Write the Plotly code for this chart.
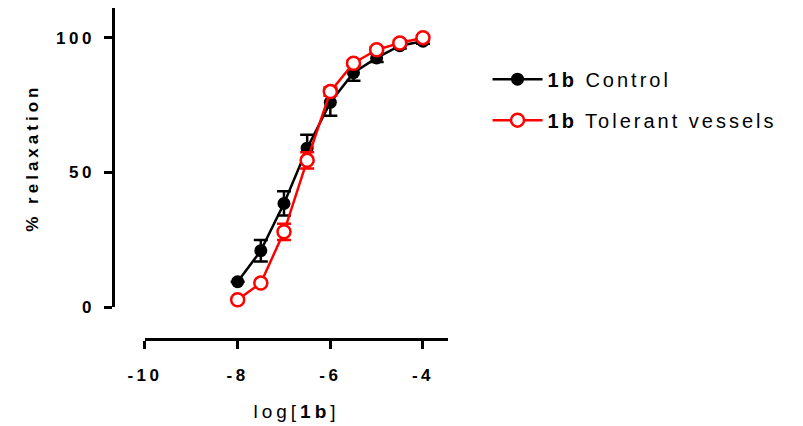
import plotly.graph_objects as go

log_conc = [-8, -7.5, -7, -6.5, -6, -5.5, -5, -4.5, -4]
control = [9.5, 21, 38.5, 59, 76, 87, 92.5, 97, 98.7]
control_err = [0, 4, 4.5, 5, 5, 3, 1.5, 1, 1]
tolerant = [2.8, 9, 28, 54.5, 80, 90.5, 95.5, 98, 100]
tolerant_err = [0, 0, 3, 3, 1.5, 1, 1, 1, 0.8]
x_ticks = [-10, -8, -6, -4]
y_ticks = [0, 50, 100]

fig = go.Figure()
fig.add_trace(go.Scatter(
    x=log_conc, y=control, mode="lines+markers",
    name="<b>1b</b> Control", legendgroup="a",
    line=dict(color="black", width=2.5),
    marker=dict(color="black", size=13, symbol="circle"),
    error_y=dict(type="data", array=control_err, color="black", thickness=2.5, width=7),
    cliponaxis=False,
))
fig.add_trace(go.Scatter(
    x=log_conc, y=tolerant, mode="lines+markers",
    name="<b>1b</b> Tolerant vessels", legendgroup="b",
    line=dict(color="#ff0000", width=2.5),
    marker=dict(color="white", size=13, symbol="circle", line=dict(color="#ff0000", width=2.5)),
    error_y=dict(type="data", array=tolerant_err, color="#ff0000", thickness=2.5, width=7),
    cliponaxis=False,
))

font_family = "Liberation Sans, Arial, sans-serif"
fig.update_layout(
    width=803, height=426,
    margin=dict(l=113, r=355, t=8, b=75),
    paper_bgcolor="white", plot_bgcolor="white",
    font=dict(family=font_family, color="black"),
    showlegend=True,
    legend=dict(x=1.118, xanchor="left", y=0.844, yanchor="top",
                font=dict(size=20, color="black"), tracegroupgap=12,
                itemwidth=50,
                bgcolor="rgba(0,0,0,0)"),
    xaxis=dict(domain=[0.0955, 1], range=[-10, -3.46], anchor="free", position=0,
               showline=True, linewidth=2.5, linecolor="black",
               ticks="outside", ticklen=8, tickwidth=2.5, tickcolor="black",
               tickvals=x_ticks, ticktext=[str(v) for v in x_ticks],
               tickfont=dict(size=17, color="black", weight="bold"),
               ticklabelstandoff=12,
               showgrid=False, zeroline=False,
               title=dict(text="log[<b>1b</b>]", font=dict(size=19, color="black"), standoff=20)),
    yaxis=dict(domain=[0.0958, 1], range=[0, 111], anchor="free", position=0,
               showline=True, linewidth=2.5, linecolor="black",
               ticks="outside", ticklen=8, tickwidth=2.5, tickcolor="black",
               tickvals=y_ticks, ticktext=[str(v) for v in y_ticks],
               tickfont=dict(size=17, color="black", weight="bold"),
               ticklabelstandoff=6,
               showgrid=False, zeroline=False,
               title=dict(text="% relaxation", font=dict(size=17, color="black", weight="bold"), standoff=22)),
)

post = ("document.body.style.margin='0';"
        "var s=document.createElement('style');"
        "s.innerHTML='.legendtext{letter-spacing:3px}"
        " .xtick text,.ytick text{letter-spacing:3.5px}"
        " .xtitle,.ytitle{letter-spacing:4px}';"
        "document.head.appendChild(s);"
        "document.querySelectorAll('.legend [clip-path]').forEach(function(e){e.removeAttribute('clip-path');});")
fig.write_html("out.html", post_script=post, config={"displayModeBar": False})
